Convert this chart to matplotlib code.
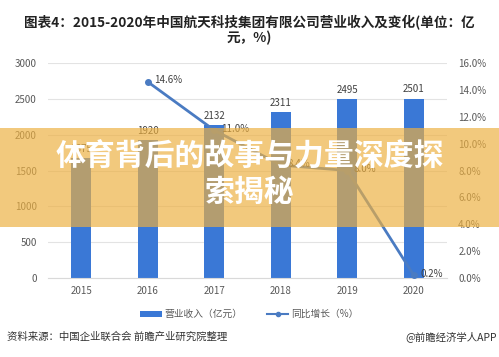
import matplotlib
matplotlib.use("Agg")
import matplotlib.pyplot as plt
from matplotlib.patches import Rectangle
from matplotlib.lines import Line2D
from matplotlib.patches import Patch
import numpy as np

plt.rcParams['font.family'] = ['Noto Sans CJK SC', 'DejaVu Sans']

years = ['2015', '2016', '2017', '2018', '2019', '2020']
revenue = [1675, 1920, 2132, 2311, 2495, 2501]
growth_years = ['2016', '2017', '2018', '2019', '2020']
growth = [14.6, 11.0, 8.4, 8.0, 0.2]
left_ticks = [0, 500, 1000, 1500, 2000, 2500, 3000]
right_ticks = [0, 2, 4, 6, 8, 10, 12, 14, 16]

title = "图表4：2015-2020年中国航天科技集团有限公司营业收入及变化(单位：亿\n元，%)"
legend_bar = "营业收入（亿元）"
legend_line = "同比增长（%）"
source = "资料来源：中国企业联合会 前瞻产业研究院整理"
credit = "@前瞻经济学人APP"
banner = "体育背后的故事与力量深度探\n索揭秘"

bar_color = '#3A78D6'
line_color = '#4A7BC2'
tick_color = '#595959'

fig = plt.figure(figsize=(4.99, 3.57), dpi=100)
fig.patch.set_facecolor('white')
ax = fig.add_axes([0.096, 0.2213, 0.8, 0.6022])
ax2 = ax.twinx()

x = np.arange(len(years))
ax.bar(x, revenue, width=0.3, color=bar_color, zorder=2)
for xi, v in zip(x, revenue):
    ax.text(xi, v + 60, str(v), ha='center', va='bottom', fontsize=7, color='#404040')

ax.set_xlim(-0.5, len(years) - 0.5)
ax.set_ylim(0, 3000)
ax.set_yticks(left_ticks)
ax.set_yticklabels([str(t) for t in left_ticks])
ax.set_xticks(x)
ax.set_xticklabels(years)
ax.grid(axis='y', color='#E3E3E3', linewidth=0.8, zorder=0)
ax.set_axisbelow(True)
for s in ['top', 'right', 'left']:
    ax.spines[s].set_visible(False)
ax.spines['bottom'].set_color('#D9D9D9')
ax.tick_params(axis='both', length=0, labelsize=7, colors=tick_color)
ax.tick_params(axis='y', pad=8)
ax.tick_params(axis='x', pad=6)

gx = [years.index(y) for y in growth_years]
ax2.plot(gx, growth, color=line_color, linewidth=2, marker='o', markersize=4, zorder=3)
for xi, v in zip(gx, growth):
    ax2.text(xi + 0.1, v + 0.1, f"{v:.1f}%", ha='left', va='center', fontsize=7, color='#404040')
ax2.set_ylim(0, 16)
ax2.set_yticks(right_ticks)
ax2.set_yticklabels([f"{t:.1f}%" for t in right_ticks])
for s in ['top', 'right', 'left', 'bottom']:
    ax2.spines[s].set_visible(False)
ax2.tick_params(axis='y', length=0, labelsize=7, colors=tick_color, pad=8)

fig.text(0.5, 0.958, title, ha='center', va='top', fontsize=9.8, fontweight='bold',
         color='#222222', linespacing=1.1)

handles = [Patch(facecolor=bar_color, edgecolor='none'),
           Line2D([0], [0], color=line_color, linewidth=1.5, marker='o', markersize=3)]
fig.legend(handles, [legend_bar, legend_line], loc='center', bbox_to_anchor=(0.5, 0.12),
           ncol=2, frameon=False, fontsize=7, handlelength=2.2, handleheight=0.6,
           columnspacing=2.5, handletextpad=0.3, labelcolor=tick_color)

fig.text(0.014, 0.058, source, ha='left', va='center', fontsize=7.5, color='#333333')
fig.text(0.996, 0.058, credit, ha='right', va='center', fontsize=7.5, color='#333333')

fig.patches.append(Rectangle((0, 0.364), 1, 0.277, transform=fig.transFigure,
                             facecolor='#EDB040', alpha=0.68, edgecolor='none', zorder=10))
fig.text(0.5, 0.512, banner, ha='center', va='center', fontsize=21.5, fontweight='black',
         color='white', linespacing=1.25, zorder=11)

fig.savefig('out.png', dpi=100, facecolor='white')
